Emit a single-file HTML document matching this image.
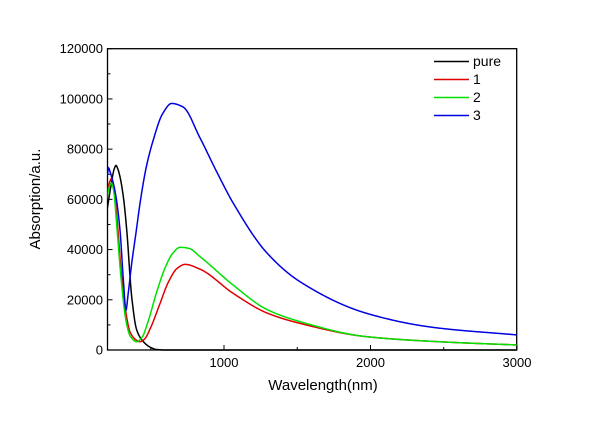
<!DOCTYPE html>
<html><head><meta charset="utf-8"><style>
html,body{margin:0;padding:0;background:#fff}
svg text{font-family:"Liberation Sans",Arial,sans-serif;fill:#000}
</style></head><body>
<svg id="s" width="600" height="420" xmlns="http://www.w3.org/2000/svg">
<defs><clipPath id="cp"><rect x="107.5" y="40" width="409.2" height="311"/></clipPath></defs>
<rect x="107.5" y="48.7" width="409.2" height="301.3" fill="none" stroke="#000" stroke-width="1.3"/>
<g id="ticks" stroke="#000" stroke-width="1"></g>
<g font-size="13" text-anchor="end" id="ylab"></g>
<g font-size="13" text-anchor="middle">
<text x="224" y="367">1000</text><text x="370.5" y="367">2000</text><text x="517" y="367">3000</text>
</g>
<text x="323" y="390" font-size="15" text-anchor="middle">Wavelength(nm)</text>
<text transform="translate(40,199) rotate(-90)" font-size="15" text-anchor="middle">Absorption/a.u.</text>
<g id="curves" fill="none" stroke-width="1.5" clip-path="url(#cp)"></g>
<g stroke-width="1.5">
<line x1="434" y1="61.5" x2="469" y2="61.5" stroke="#000"/>
<line x1="434" y1="79.5" x2="469" y2="79.5" stroke="#e00000"/>
<line x1="434" y1="97.5" x2="469" y2="97.5" stroke="#00e000"/>
<line x1="434" y1="115.5" x2="469" y2="115.5" stroke="#0000e0"/>
</g>
<g font-size="14"><text x="473" y="66">pure</text><text x="473" y="84">1</text><text x="473" y="102">2</text><text x="473" y="120">3</text></g>
</svg>
<script>
var X=function(n){return 77.5+n*0.1465},Y=function(v){return 350-v*0.0025108};
var t=document.getElementById('ticks'),yl=document.getElementById('ylab'),h='',l='';
for(var v=0;v<=120000;v+=10000){var y=Y(v),maj=v%20000==0;h+='<line x1="107.5" x2="'+(107.5+(maj?5:3))+'" y1="'+y+'" y2="'+y+'"/>';if(maj)l+='<text x="103" y="'+(y+4.5)+'">'+v+'</text>';}
for(var n=500;n<=3000;n+=500){var x=X(n),maj=n%1000==0;h+='<line x1="'+x+'" x2="'+x+'" y1="350" y2="'+(350-(maj?5:3))+'"/>';}
t.innerHTML=h;yl.innerHTML=l;
var D={
'#000':[[200,55000],[230,66000],[250,72000],[263,73500],[276,72000],[290,69000],[313,61000],[336,47800],[370,21200],[404,8000],[450,3300],[500,1000],[540,200],[600,0],[3000,0]],
'#e00000':[[200,62000],[220,67000],[233,68400],[245,66000],[270,52000],[300,30000],[330,15000],[360,7000],[400,4000],[427,3300],[460,4500],[500,9000],[560,18000],[620,27000],[680,32500],[734,34100],[836,32200],[1064,22500],[1291,14800],[1519,10600],[1974,5300],[2500,3200],[3000,2000]],
'#00e000':[[200,60000],[220,65500],[233,66500],[248,63000],[270,48000],[300,27000],[330,12000],[360,5500],[404,3300],[440,5000],[480,11000],[540,23000],[600,33000],[650,38500],[700,40900],[760,40500],[836,37200],[1064,25800],[1291,16200],[1519,11300],[1974,5300],[2500,3200],[3000,2000]],
'#0000e0':[[200,68000],[213,72500],[222,71000],[233,69000],[260,62000],[290,47800],[313,27900],[331,15900],[345,22000],[370,34500],[400,47000],[427,58500],[470,73000],[517,83600],[580,94000],[643,98200],[720,96800],[836,84500],[950,71000],[1064,58400],[1291,38800],[1519,27200],[1974,14600],[2429,9000],[3000,6000]]};
function mono(p){var n=p.length,d=[],m=[];
for(var i=0;i<n-1;i++)d.push((p[i+1][1]-p[i][1])/(p[i+1][0]-p[i][0]));
m[0]=d[0];m[n-1]=d[n-2];
for(i=1;i<n-1;i++){if(d[i-1]*d[i]<=0)m[i]=0;else{var w1=2*(p[i+1][0]-p[i][0])+(p[i][0]-p[i-1][0]),w2=(p[i+1][0]-p[i][0])+2*(p[i][0]-p[i-1][0]);m[i]=(w1+w2)/(w1/d[i-1]+w2/d[i]);}}
var s='';
for(i=0;i<n-1;i++){var x0=p[i][0],x1=p[i+1][0],hh=x1-x0;
var N=Math.max(2,Math.ceil(hh*2));
for(var k=0;k<=N;k++){var tt=k/N;
var h00=2*tt*tt*tt-3*tt*tt+1,h10=tt*tt*tt-2*tt*tt+tt,h01=-2*tt*tt*tt+3*tt*tt,h11=tt*tt*tt-tt*tt;
var yy=h00*p[i][1]+h10*hh*m[i]+h01*p[i+1][1]+h11*hh*m[i+1];
s+=(s?' L':'M')+(x0+tt*hh).toFixed(2)+','+Math.min(350,yy).toFixed(2);}}
return s;}
var c='';
for(var k in D){var p=D[k].map(function(a){return[X(a[0]),Y(a[1])]});c+='<path d="'+mono(p)+'" stroke="'+k+'"/>';}
document.getElementById('curves').innerHTML=c;
</script>
</body></html>
